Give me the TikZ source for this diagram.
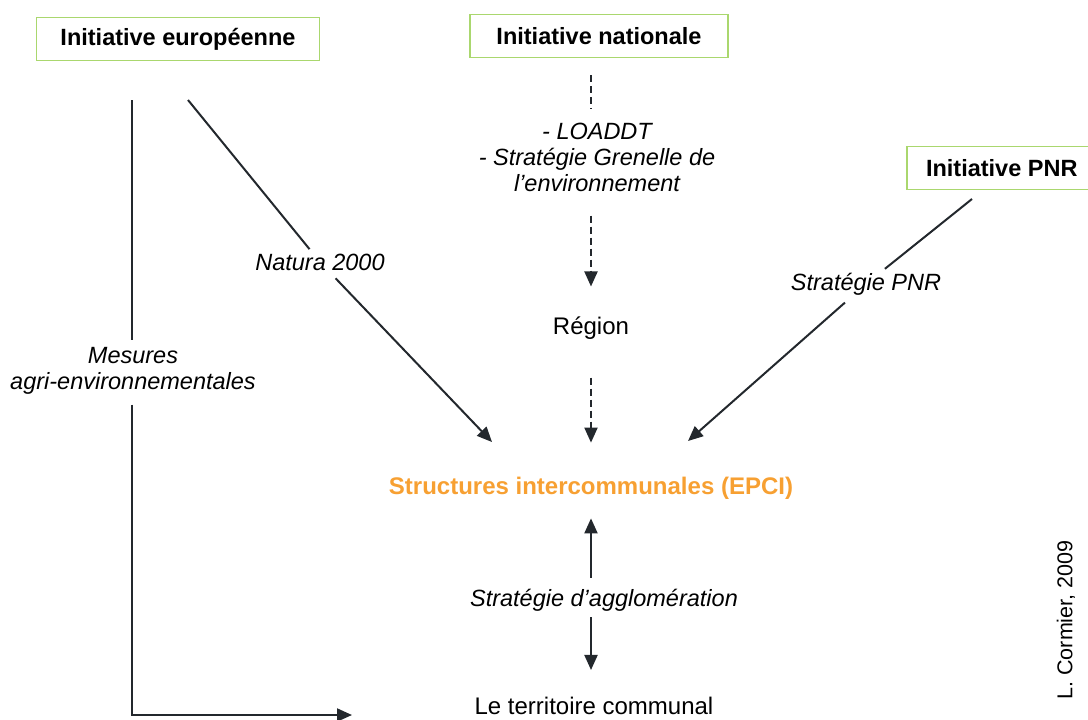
\documentclass[tikz,border=0pt]{standalone}
\usepackage{fontspec}
\setmainfont{Liberation Sans}
\usepackage{xcolor}
\usetikzlibrary{arrows.meta, positioning}
\definecolor{boxgreen}{RGB}{170,215,110}
\definecolor{epciorange}{RGB}{247,160,50}
\definecolor{linegrey}{RGB}{35,40,45}

\begin{document}
\begin{tikzpicture}[x=1pt, y=-1pt,
    initiative/.style={draw=boxgreen, line width=1.5pt, font=\bfseries\fontsize{23.5}{26}\selectfont, minimum height=43pt, inner xsep=12pt},
    label/.style={font=\itshape\fontsize{23.5}{26}\selectfont, align=center, inner sep=2pt},
    plain/.style={font=\fontsize{24}{26}\selectfont, align=center, inner sep=2pt},
    rel/.style={-{Triangle[length=15pt, width=13pt]}, line width=2pt, draw=linegrey},
    link/.style={line width=2pt, draw=linegrey},
    dashlink/.style={link, dash pattern=on 7pt off 4pt},
    dashrel/.style={rel, dash pattern=on 7pt off 4pt}
]
\useasboundingbox (0,0) rectangle (1088,720);

\node[initiative, minimum width=283pt] (europe) at (178,39) {Initiative européenne};
\node[initiative, minimum width=258pt] (national) at (599,36) {Initiative nationale};
\node[initiative, minimum width=190pt, anchor=west] (pnr) at (906,168) {Initiative PNR};

\node[label] (mesures) at (133,371) {Mesures\\agri-environnementales};
\node[label] (natura) at (320,262) {Natura 2000};
\node[label] (loaddt) at (597,157) {- LOADDT\\- Stratégie Grenelle de\\l'environnement};
\node[label] (strpnr) at (866,284) {Stratégie PNR};
\node[plain] (region) at (591,328) {Région};
\node[font=\bfseries\fontsize{24}{26}\selectfont, text=epciorange, inner sep=2pt] (epci) at (591,488) {Structures intercommunales (EPCI)};
\node[label] (agglo) at (604,600) {Stratégie d'agglomération};
\node[plain] (commune) at (594,706) {Le territoire communal};
\node[font=\fontsize{21.5}{24}\selectfont, rotate=90] (auteur) at (1066,620) {L. Cormier, 2009};

% free ends of the connectors
\coordinate (euL) at (132,100);
\coordinate (euR) at (188,100);
\coordinate (corner) at (132,715);
\coordinate (communeL) at (352,715);
\coordinate (natT) at (591,75);
\coordinate (pnrB) at (972,199);
\coordinate (epciNW) at (492,442);
\coordinate (epciNE) at (688,441);

% mesures agri-environnementales
\draw[link, shorten >=5pt] (euL) -- (mesures.north -| euL);
\draw[rel, shorten <=8pt] (mesures.south -| euL) -- (corner) -- (communeL);

% natura 2000
\draw[link, shorten >=3pt] (euR) -- (natura);
\draw[rel, shorten <=8pt] (natura) -- (epciNW);

% voie nationale
\draw[dashlink, shorten >=12pt] (natT) -- (loaddt.north -| natT);
\draw[dashrel, shorten <=22pt, shorten >=28pt] (loaddt.south -| region) -- (region.north);
\draw[dashrel, shorten <=36pt, shorten >=32pt] (region.south) -- (epci.north);

% PNR
\draw[link, shorten >=3pt] (pnrB) -- (strpnr);
\draw[rel, shorten <=8pt] (strpnr) -- (epciNE);

% agglomeration
\draw[rel, shorten <=9pt, shorten >=17pt] (agglo.north -| epci) -- (epci.south);
\draw[rel, shorten <=4pt, shorten >=25pt] (agglo.south -| epci) -- (commune.north -| epci);
\end{tikzpicture}
\end{document}
